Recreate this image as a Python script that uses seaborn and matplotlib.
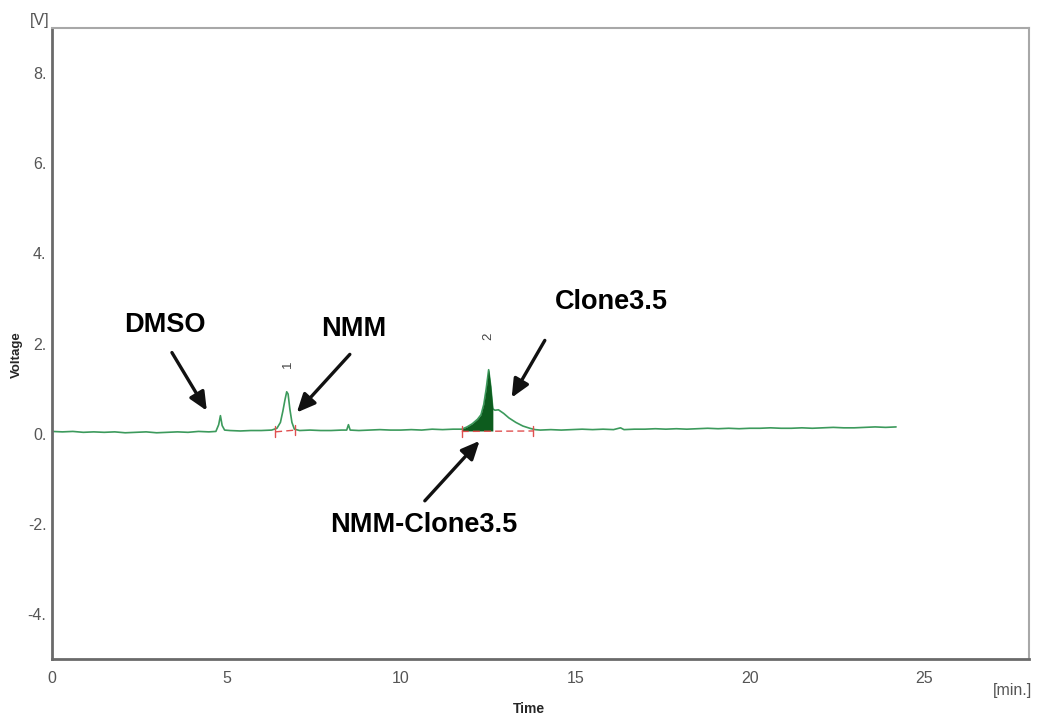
import numpy as np
import pandas as pd
import matplotlib
matplotlib.use("Agg")
import matplotlib.pyplot as plt
import seaborn as sns

# ---- data ----
trace_time = [0.0, 0.3, 0.6, 0.9, 1.2, 1.5, 1.8, 2.1, 2.4, 2.7, 3.0, 3.3, 3.6, 3.9, 4.2, 4.5,
              4.7, 4.78, 4.83, 4.88, 4.95, 5.1, 5.4, 5.7, 6.0, 6.3, 6.45, 6.55, 6.62, 6.68,
              6.73, 6.77, 6.82, 6.88, 6.95, 7.1, 7.4, 7.7, 8.0, 8.3, 8.45, 8.5, 8.55, 8.8,
              9.1, 9.4, 9.7, 10.0, 10.3, 10.6, 10.9, 11.2, 11.5, 11.75, 11.9, 12.05, 12.2,
              12.3, 12.38, 12.45, 12.52, 12.58, 12.64, 12.7, 12.8, 12.95, 13.1, 13.3, 13.5,
              13.7, 13.85, 14.0, 14.3, 14.6, 14.9, 15.2, 15.5, 15.8, 16.1, 16.3, 16.4, 16.7,
              17.0, 17.3, 17.6, 17.9, 18.2, 18.5, 18.8, 19.1, 19.4, 19.7, 20.0, 20.3, 20.6,
              20.9, 21.2, 21.5, 21.8, 22.1, 22.4, 22.7, 23.0, 23.3, 23.6, 23.9, 24.2]
trace_volt = [0.05, 0.04, 0.05, 0.03, 0.04, 0.03, 0.04, 0.02, 0.03, 0.04, 0.02, 0.03, 0.04, 0.03,
              0.05, 0.04, 0.05, 0.20, 0.40, 0.18, 0.08, 0.07, 0.06, 0.07, 0.07, 0.08, 0.12,
              0.25, 0.50, 0.75, 0.93, 0.88, 0.55, 0.25, 0.10, 0.07, 0.08, 0.07, 0.07, 0.08,
              0.08, 0.20, 0.08, 0.07, 0.08, 0.09, 0.08, 0.08, 0.09, 0.08, 0.10, 0.09, 0.10,
              0.10, 0.15, 0.22, 0.32, 0.42, 0.65, 1.00, 1.42, 1.05, 0.55, 0.52, 0.53, 0.45,
              0.35, 0.25, 0.17, 0.12, 0.09, 0.08, 0.09, 0.08, 0.09, 0.10, 0.09, 0.10, 0.09,
              0.13, 0.09, 0.10, 0.10, 0.11, 0.10, 0.11, 0.10, 0.11, 0.12, 0.11, 0.12, 0.11,
              0.12, 0.12, 0.13, 0.12, 0.12, 0.13, 0.12, 0.13, 0.14, 0.13, 0.13, 0.14, 0.15,
              0.14, 0.15]

# filled peak (NMM-Clone3.5) range
fill_start, fill_end, fill_base = 11.75, 12.64, 0.06

# integration baselines (red dashed)
base_t0 = [6.40, 11.75]
base_t1 = [6.98, 13.80]
base_v0 = [0.04, 0.05]
base_v1 = [0.08, 0.06]

# peak numbers
peak_ids = ["1", "2"]
peak_id_t = [6.76, 12.52]
peak_id_v = [1.55, 2.15]

# annotations: label, text position, arrow tail, arrow head
ann_labels = ["DMSO", "NMM", "Clone3.5", "NMM-Clone3.5"]
ann_text_t = [3.24, 8.65, 16.05, 10.66]
ann_text_v = [2.41, 2.32, 2.92, -2.03]
ann_tail_t = [3.44, 8.54, 14.13, 10.69]
ann_tail_v = [1.80, 1.76, 2.07, -1.49]
ann_head_t = [4.44, 7.02, 13.18, 12.26]
ann_head_v = [0.51, 0.47, 0.80, -0.16]

x_ticks = [0, 5, 10, 15, 20, 25]
y_ticks = [-4, -2, 0, 2, 4, 6, 8]

# ---- plotting ----
sns.set_style("white")
plt.rcParams['font.family'] = ['Liberation Sans', 'DejaVu Sans']

fig = plt.figure(figsize=(10.39, 7.22), dpi=100)
ax = fig.add_axes([0.050, 0.0873, 0.940, 0.8737])

df = pd.DataFrame({"Time": trace_time, "Voltage": trace_volt})
sns.lineplot(data=df, x="Time", y="Voltage", ax=ax, color="#3c9a5c", linewidth=1.2,
             estimator=None, sort=False)

t = np.array(trace_time)
v = np.array(trace_volt)
m = (t >= fill_start) & (t <= fill_end)
ax.fill_between(t[m], v[m], fill_base, color="#0d5c1e", linewidth=0, zorder=3)

for a0, a1, b0, b1 in zip(base_t0, base_t1, base_v0, base_v1):
    ax.plot([a0, a1], [b0, b1], color="#e05050", lw=1.0, ls=(0, (5, 3)), zorder=4)
    ax.plot([a0, a0], [b0 - 0.12, b0 + 0.12], color="#e05050", lw=1.0, zorder=4)
    ax.plot([a1, a1], [b1 - 0.12, b1 + 0.12], color="#e05050", lw=1.0, zorder=4)

for lab, pt, pv in zip(peak_ids, peak_id_t, peak_id_v):
    ax.text(pt, pv, lab, rotation=90, ha="center", va="center", fontsize=9.5, color="#444444")

for lab, tt, tv, at, av, ht, hv in zip(ann_labels, ann_text_t, ann_text_v, ann_tail_t,
                                       ann_tail_v, ann_head_t, ann_head_v):
    ax.text(tt, tv, lab, ha="center", va="center", fontsize=19.5, fontweight="bold",
            color="black")
    ax.annotate("", xy=(ht, hv), xytext=(at, av),
                arrowprops=dict(arrowstyle="-|>,head_length=1.1,head_width=0.5",
                                color="#111111", lw=2.4, shrinkA=0, shrinkB=0))

tick_font = ['Liberation Sans Narrow', 'Liberation Sans', 'DejaVu Sans']

ax.set_xlim(0, 28)
ax.set_ylim(-5, 9)
ax.set_xticks(x_ticks)
ax.set_yticks(y_ticks)
ax.set_xticklabels([str(x) for x in x_ticks], family=tick_font)
ax.set_yticklabels([f"{y}." for y in y_ticks], family=tick_font)
ax.tick_params(axis="both", which="both", direction="out", length=4, width=1.2,
               colors="#555555", labelsize=11.5, labelcolor="#555555")
ax.tick_params(axis="y", pad=0)
ax.tick_params(axis="x", pad=5)
ax.set_xlabel("Time", fontsize=10, fontweight="bold")
ax.set_ylabel("Voltage", fontsize=9.5, fontweight="bold")
ax.xaxis.set_label_coords(0.488, -0.068)
ax.yaxis.set_label_coords(-0.030, 0.482)

for s in ["left", "bottom"]:
    ax.spines[s].set_color("#6a6a6a")
    ax.spines[s].set_linewidth(2.0)
for s in ["top", "right"]:
    ax.spines[s].set_color("#a8a8a8")
    ax.spines[s].set_linewidth(1.5)

fig.text(40 / 1039, 1 - 20 / 722, "[V]", ha="center", va="center", fontsize=11.5,
         color="#555555", family=tick_font)
fig.text(1012 / 1039, 1 - 690 / 722, "[min.]", ha="center", va="center", fontsize=11.5,
         color="#555555", family=tick_font)

fig.savefig("out.png", dpi=100)
